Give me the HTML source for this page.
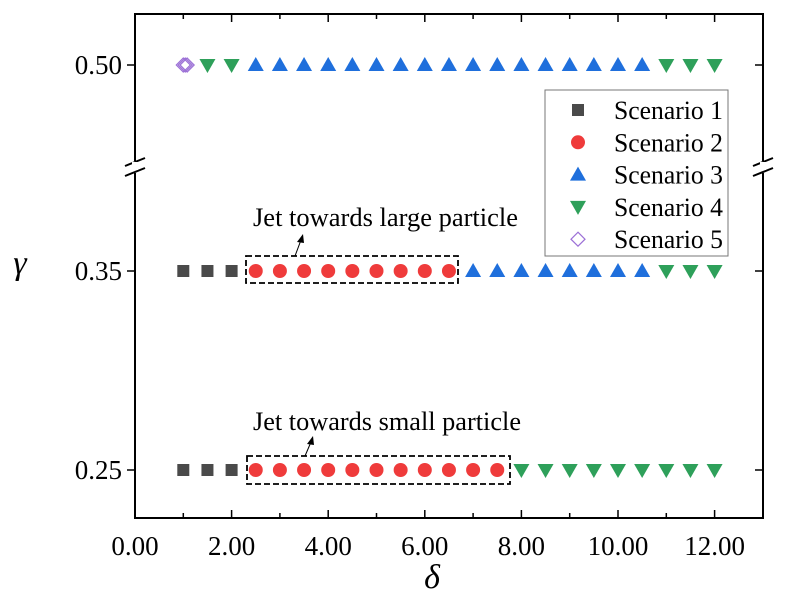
<!DOCTYPE html>
<html><head><meta charset="utf-8"><style>
body{margin:0;background:#fff}
svg text{font-family:"Liberation Serif",serif}
</style></head><body>
<svg id="chart" width="789" height="608" viewBox="0 0 789 608" xmlns="http://www.w3.org/2000/svg">
<g id="frame"></g>
<g id="marks"></g>
<g>
 <rect x="246" y="256" width="212" height="27" fill="none" stroke="#000" stroke-width="1.8" stroke-dasharray="6,3"/>
 <rect x="247" y="456" width="263" height="28" fill="none" stroke="#000" stroke-width="1.8" stroke-dasharray="6,3"/>
 <text x="253" y="226" font-size="26" textLength="265" lengthAdjust="spacingAndGlyphs">Jet towards large particle</text>
 <text x="253" y="430" font-size="26" textLength="268" lengthAdjust="spacingAndGlyphs">Jet towards small particle</text>
 <line x1="295" y1="256" x2="301" y2="240" stroke="#000" stroke-width="1"/>
 <polygon points="303,234 297,242 304,243" fill="#000"/>
 <line x1="305" y1="456" x2="311" y2="442" stroke="#000" stroke-width="1"/>
 <polygon points="313,436 307,444 314,445" fill="#000"/>
</g>
<g>
 <rect x="545" y="90" width="183" height="166" fill="#fff" stroke="#777" stroke-width="1"/>
 <g id="legend-entries"></g>
</g>
<text x="20" y="274" font-size="34" font-style="italic" text-anchor="middle">γ</text>
<text x="432" y="588" font-size="34" font-style="italic" text-anchor="middle">δ</text>
</svg>
<script>
const xTicks=[0,2,4,6,8,10,12];
const xTickLabels=["0.00","2.00","4.00","6.00","8.00","10.00","12.00"];
const yTicks=[0.25,0.35,0.50];
const yTickLabels=["0.25","0.35","0.50"];
const s1x=[1,1.5,2,1,1.5,2];
const s1y=[0.35,0.35,0.35,0.25,0.25,0.25];
const s2x=[2.5,3,3.5,4,4.5,5,5.5,6,6.5,2.5,3,3.5,4,4.5,5,5.5,6,6.5,7,7.5];
const s2y=[0.35,0.35,0.35,0.35,0.35,0.35,0.35,0.35,0.35,0.25,0.25,0.25,0.25,0.25,0.25,0.25,0.25,0.25,0.25,0.25];
const s3x=[2.5,3,3.5,4,4.5,5,5.5,6,6.5,7,7.5,8,8.5,9,9.5,10,10.5,7,7.5,8,8.5,9,9.5,10,10.5];
const s3y=[0.5,0.5,0.5,0.5,0.5,0.5,0.5,0.5,0.5,0.5,0.5,0.5,0.5,0.5,0.5,0.5,0.5,0.35,0.35,0.35,0.35,0.35,0.35,0.35,0.35];
const s4x=[1.5,2,11,11.5,12,11,11.5,12,8,8.5,9,9.5,10,10.5,11,11.5,12];
const s4y=[0.5,0.5,0.5,0.5,0.5,0.35,0.35,0.35,0.25,0.25,0.25,0.25,0.25,0.25,0.25,0.25,0.25];
const s5x=[1,1.04,1.08];
const s5y=[0.5,0.5,0.5];
const legendLabels=["Scenario 1","Scenario 2","Scenario 3","Scenario 4","Scenario 5"];

const L=135,R=763,T=14,B=518;
function X(v){return L+v*48.3;}
function Y(v){ if(v>=0.45) return 65-(v-0.5)*1990; return 470-(v-0.25)*1990; }
const NS="http://www.w3.org/2000/svg";
function mk(parent,tag,attrs){const e=document.createElementNS(NS,tag);for(const k in attrs)e.setAttribute(k,attrs[k]);parent.appendChild(e);return e;}
const fr=document.getElementById('frame');
const brk=167;
mk(fr,'path',{d:`M${L},${brk-6}V${T}H${R}V${brk-6}M${L},${brk+6}V${B}H${R}V${brk+6}`,fill:'none',stroke:'#000','stroke-width':2});
[L,R].forEach(x=>{
 const a=mk(fr,'path',{d:`M${x-10},${brk-1}L${x+10},${brk-9}M${x-10},${brk+9}L${x+10},${brk+1}`,stroke:'#000','stroke-width':2,fill:'none'});
 
 
 mk(fr,'rect',{x:x-3,y:brk-5,width:6,height:8,fill:'#fff'});
});
for(let v=1;v<=13;v++){
 const major=v%2===0&&v<=12;
 const len=major?8:5;
 mk(fr,'line',{x1:X(v),x2:X(v),y1:B,y2:B-len,stroke:'#000','stroke-width':1.5});
 mk(fr,'line',{x1:X(v),x2:X(v),y1:T,y2:T+len,stroke:'#000','stroke-width':1.5});
}
xTicks.forEach((v,i)=>{
 const t=mk(fr,'text',{x:X(v),y:B+37,'font-size':27,'text-anchor':'middle'});
 t.textContent=xTickLabels[i];
 
 
});
yTicks.forEach((v,i)=>{
 mk(fr,'line',{x1:L-8,x2:L,y1:Y(v),y2:Y(v),stroke:'#000','stroke-width':1.5});
 mk(fr,'line',{x1:R,x2:R-8,y1:Y(v),y2:Y(v),stroke:'#000','stroke-width':1.5});
 const t=mk(fr,'text',{x:L-13,y:Y(v)+9,'font-size':27,'text-anchor':'end'});
 t.textContent=yTickLabels[i];
 
 
});
const marks=document.getElementById('marks');
function marker(g,type,cx,cy){
 let e;
 if(type===1) e=mk(g,'rect',{x:cx-6,y:cy-6,width:12,height:12,fill:'#4a4a4a'});
 else if(type===2) e=mk(g,'circle',{cx:cx,cy:cy,r:7,fill:'#ef3b3b'});
 else if(type===3) e=mk(g,'polygon',{points:`${cx},${cy-8} ${cx+8},${cy+6} ${cx-8},${cy+6}`,fill:'#1f6fdc'});
 else if(type===4) e=mk(g,'polygon',{points:`${cx-8},${cy-6} ${cx+8},${cy-6} ${cx},${cy+8}`,fill:'#2ea05a'});
 else e=mk(g,'polygon',{points:`${cx},${cy-7} ${cx+7},${cy} ${cx},${cy+7} ${cx-7},${cy}`,fill:'none',stroke:'#9b6fd6','stroke-width':1.2});
 return e;
}
[[s1x,s1y,1],[s2x,s2y,2],[s3x,s3y,3],[s4x,s4y,4],[s5x,s5y,5]].forEach(([xs,ys,t])=>{
 xs.forEach((x,i)=>{
  const e=marker(marks,t,X(x),Y(ys[i]));
  
  
 });
});
const lg=document.getElementById('legend-entries');
legendLabels.forEach((lab,i)=>{
 const y=110+i*32.3;
 const e=marker(lg,i+1,578,y);
 
 
 const t=mk(lg,'text',{x:614,y:y+9,'font-size':26,textLength:109,lengthAdjust:'spacingAndGlyphs'});
 t.textContent=lab;
 
 
});
</script>
</body></html>
